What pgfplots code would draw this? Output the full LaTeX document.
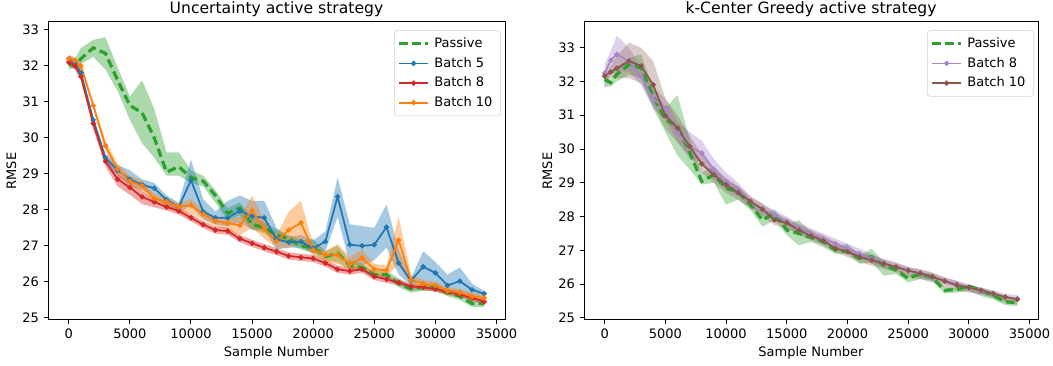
\documentclass[border=0pt]{standalone}
\usepackage{pgfplots}
\pgfplotsset{compat=1.18}
\usepackage{pgfplotstable}
\usepgfplotslibrary{fillbetween}
\usepackage{fontspec}
\setmainfont{DejaVu Sans}

\definecolor{tabblue}{HTML}{1F77B4}
\definecolor{taborange}{HTML}{FF7F0E}
\definecolor{tabgreen}{HTML}{2CA02C}
\definecolor{tabred}{HTML}{D62728}
\definecolor{tabpurple}{HTML}{9467BD}
\definecolor{tabbrown}{HTML}{8C564B}

% ---------- Left: Uncertainty ----------
\pgfplotstableread{
x m lo hi
0 32.05 31.9 32.2
500 32.0 31.95 32.2
1000 32.2 32.05 32.5
2000 32.5 32.25 32.72
3000 32.35 31.9 32.8
4000 31.6 31.3 31.95
5000 30.9 30.5 31.15
6000 30.7 29.85 31.6
7000 30.0 29.45 30.8
8000 29.05 28.95 29.6
9000 29.2 28.95 29.6
10000 28.9 28.75 29.1
11000 28.8 28.65 28.95
12000 28.4 28.2 28.55
13000 27.9 27.7 28.05
14000 28.05 27.85 28.2
15000 27.6 27.45 27.8
16000 27.5 27.35 27.65
17000 27.3 27.15 27.45
18000 27.2 27.05 27.3
19000 27.0 26.9 27.15
20000 26.95 26.8 27.2
21000 26.7 26.6 26.85
22000 26.8 26.55 27.0
23000 26.45 26.35 26.6
24000 26.4 26.3 26.5
25000 26.2 26.1 26.3
26000 26.2 26.1 26.3
27000 25.95 25.85 26.1
28000 25.8 25.7 25.9
29000 25.85 25.75 25.95
30000 25.85 25.75 25.95
31000 25.7 25.6 25.8
32000 25.6 25.5 25.7
33000 25.4 25.3 25.5
34000 25.4 25.3 25.5
}\Lpass

\pgfplotstableread{
x m lo hi
0 32.2 32.1 32.3
500 32.1 32.0 32.2
1000 31.8 31.7 31.9
2000 30.5 30.4 30.6
3000 29.45 29.35 29.55
4000 29.1 28.95 29.25
5000 28.85 28.7 29.1
6000 28.7 28.55 28.85
7000 28.6 28.4 28.75
8000 28.28 28.1 28.4
9000 28.08 27.95 28.2
10000 28.82 28.1 29.4
11000 27.95 27.75 28.3
12000 27.78 27.6 27.95
13000 27.78 27.55 28.25
14000 27.97 27.65 28.4
15000 27.82 27.45 28.25
16000 27.78 27.45 28.25
17000 27.18 26.9 27.5
18000 27.1 26.95 27.25
19000 27.12 26.95 27.3
20000 26.93 26.8 27.15
21000 27.12 26.85 27.4
22000 28.37 27.8 28.9
23000 27.03 26.5 27.6
24000 27.0 26.45 27.55
25000 27.03 26.6 27.5
26000 27.52 26.95 28.15
27000 26.52 26.2 26.9
28000 26.03 25.9 26.1
29000 26.42 26.0 26.85
30000 26.25 25.9 26.55
31000 25.9 25.65 26.2
32000 26.02 25.75 26.4
33000 25.78 25.55 25.95
34000 25.67 25.5 25.75
}\Lbfive

\pgfplotstableread{
x m lo hi
0 32.1 32.0 32.2
500 32.0 31.9 32.1
1000 31.7 31.6 31.8
2000 30.4 30.25 30.55
3000 29.35 29.2 29.5
4000 28.85 28.65 29.0
5000 28.62 28.42 28.78
6000 28.36 28.16 28.52
7000 28.22 28.07 28.32
8000 28.08 27.98 28.18
9000 27.97 27.87 28.07
10000 27.78 27.68 27.88
11000 27.59 27.49 27.69
12000 27.44 27.34 27.54
13000 27.41 27.31 27.51
14000 27.2 27.1 27.3
15000 27.07 26.97 27.17
16000 26.95 26.85 27.05
17000 26.84 26.74 26.94
18000 26.72 26.62 26.82
19000 26.68 26.58 26.78
20000 26.65 26.55 26.75
21000 26.52 26.42 26.62
22000 26.35 26.25 26.45
23000 26.3 26.2 26.4
24000 26.35 26.25 26.45
25000 26.15 26.05 26.25
26000 26.07 25.97 26.17
27000 25.98 25.9 26.06
28000 25.87 25.79 25.95
29000 25.85 25.77 25.93
30000 25.8 25.72 25.88
31000 25.72 25.64 25.8
32000 25.65 25.57 25.73
33000 25.55 25.47 25.63
34000 25.45 25.37 25.53
}\Lbeight

\pgfplotstableread{
x m lo hi
0 32.2 32.1 32.3
500 32.15 32.05 32.25
1000 32.0 31.9 32.1
2000 30.9 30.8 31.0
3000 29.78 29.63 29.93
4000 29.13 28.98 29.28
5000 28.8 28.65 28.95
6000 28.67 28.52 28.82
7000 28.32 28.22 28.45
8000 28.23 28.12 28.33
9000 28.09 27.97 28.18
10000 28.13 27.9 28.3
11000 27.88 27.72 28.0
12000 27.69 27.55 27.8
13000 27.63 27.45 27.75
14000 27.57 27.3 27.8
15000 27.98 27.5 28.4
16000 27.46 27.2 27.7
17000 27.13 26.95 27.3
18000 27.44 26.95 27.95
19000 27.64 27.05 28.25
20000 26.89 26.75 27.05
21000 26.75 26.55 26.85
22000 26.75 26.5 27.05
23000 26.49 26.35 26.7
24000 26.66 26.4 26.9
25000 26.35 26.2 26.5
26000 26.32 26.15 26.45
27000 27.16 26.5 27.8
28000 26.05 25.9 26.2
29000 25.95 25.85 26.05
30000 25.9 25.8 26.0
31000 25.75 25.65 25.85
32000 25.7 25.6 25.8
33000 25.6 25.5 25.7
34000 25.55 25.45 25.65
}\Lbten

% ---------- Right: k-Center Greedy ----------
\pgfplotstableread{
x m lo hi
0 32.06 31.85 32.2
500 31.96 31.85 32.05
1000 32.21 32.0 32.4
2000 32.5 32.2 32.7
3000 32.4 32.1 32.8
4000 31.56 31.2 31.8
5000 30.87 30.5 31.2
6000 30.67 29.8 31.6
7000 29.9 29.4 30.3
8000 29.04 28.95 29.3
9000 29.24 29.0 29.5
10000 28.84 28.35 29.05
11000 28.74 28.5 28.9
12000 28.35 28.2 28.5
13000 27.9 27.7 28.1
14000 28.1 27.9 28.2
15000 27.6 27.45 27.75
16000 27.5 27.15 27.9
17000 27.38 27.25 27.55
18000 27.26 27.1 27.35
19000 27.01 26.9 27.1
20000 26.96 26.9 27.2
21000 26.76 26.6 26.85
22000 26.81 26.65 27.05
23000 26.56 26.25 26.65
24000 26.42 26.3 26.5
25000 26.17 26.05 26.3
26000 26.3 26.15 26.35
27000 26.2 26.1 26.3
28000 25.82 25.72 25.9
29000 25.84 25.75 25.9
30000 25.94 25.8 26.0
31000 25.82 25.65 25.85
32000 25.67 25.55 25.75
33000 25.48 25.38 25.55
34000 25.45 25.35 25.5
}\Rpass

\pgfplotstableread{
x m lo hi
0 32.25 31.75 32.5
500 32.62 32.2 32.9
1000 32.8 32.3 33.35
2000 32.6 32.3 33.0
3000 32.14 31.9 32.4
4000 31.47 31.2 31.8
5000 31.22 30.9 31.5
6000 30.48 30.2 30.8
7000 30.08 29.7 30.5
8000 29.88 29.6 30.25
9000 29.39 29.1 29.7
10000 29.04 28.8 29.3
11000 28.8 28.6 29.0
12000 28.45 28.3 28.6
13000 28.2 28.05 28.35
14000 28.05 27.9 28.2
15000 27.85 27.7 28.0
16000 27.65 27.5 27.8
17000 27.5 27.35 27.65
18000 27.35 27.2 27.5
19000 27.2 27.05 27.35
20000 27.05 26.9 27.2
21000 26.9 26.75 27.05
22000 26.75 26.6 26.9
23000 26.62 26.5 26.72
24000 26.52 26.4 26.62
25000 26.42 26.3 26.52
26000 26.32 26.2 26.42
27000 26.22 26.1 26.32
28000 26.1 26.0 26.2
29000 26.0 25.9 26.1
30000 25.9 25.8 26.0
31000 25.8 25.7 25.9
32000 25.72 25.62 25.82
33000 25.62 25.52 25.72
34000 25.57 25.47 25.67
}\Rbeight

\pgfplotstableread{
x m lo hi
0 32.16 32.05 32.25
500 32.28 32.1 32.45
1000 32.39 32.1 32.75
2000 32.6 32.1 33.15
3000 32.46 31.95 33.0
4000 31.9 31.3 32.6
5000 30.99 30.6 31.5
6000 30.62 30.2 31.0
7000 30.08 29.8 30.4
8000 29.56 29.3 29.85
9000 29.24 29.0 29.45
10000 28.94 28.7 29.15
11000 28.71 28.5 28.9
12000 28.45 28.25 28.6
13000 28.22 28.0 28.4
14000 27.9 27.75 28.1
15000 27.82 27.65 27.95
16000 27.6 27.45 27.75
17000 27.43 27.3 27.6
18000 27.29 27.15 27.45
19000 27.06 26.95 27.25
20000 26.96 26.8 27.1
21000 26.81 26.65 26.95
22000 26.71 26.55 26.85
23000 26.61 26.45 26.75
24000 26.51 26.35 26.65
25000 26.4 26.2 26.5
26000 26.32 26.15 26.45
27000 26.22 26.05 26.35
28000 26.09 25.9 26.2
29000 25.97 25.8 26.1
30000 25.9 25.75 25.95
31000 25.82 25.7 25.9
32000 25.72 25.6 25.8
33000 25.62 25.45 25.65
34000 25.55 25.4 25.6
}\Rbten

\pgfplotsset{
  every axis/.append style={
    scale only axis,
    xmin=-1700, xmax=35700,
    xtick={0,5000,...,35000},
    scaled x ticks=false,
    /pgf/number format/1000 sep={},
    /pgf/number format/assume math mode=true,
    tick align=outside,
    tick pos=left,
    major tick length=3.3pt,
    axis line style={line width=0.75pt},
    every tick/.style={line width=0.75pt, black},
    font=\fontsize{9.75}{11.5}\selectfont,
    ticklabel style={font=\fontsize{9.75}{11.5}\selectfont},
    title style={font=\fontsize{11.7}{13}\selectfont, at={(0.5,1)}, anchor=base, yshift=0.3pt},
    xlabel style={at={(axis description cs:0.5,-0.124)}, anchor=base},
    legend cell align=left,
    legend image code/.code={%
      \draw[mark repeat=2,mark phase=2,#1] plot coordinates {(0pt,0pt) (10.75pt,0pt) (21.5pt,0pt)};},
    legend style={font=\fontsize{9.75}{11.5}\selectfont, draw=black!18, rounded corners=2pt,
      fill=white, fill opacity=0.8, text opacity=1, anchor=north east,
      at={(axis description cs:0.991,0.972)}, inner xsep=2.4pt, inner ysep=2.6pt,
      row sep=0pt, column sep=0pt,
      nodes={text height=7.5pt, text depth=2pt, inner ysep=2.6pt, inner xsep=3.7pt}},
  },
  pass/.style={tabgreen, line width=2.4pt, dash pattern=on 6.5pt off 3.3pt},
  bat/.style={#1, line width=1.3pt, mark=*, mark size=1.25pt, mark options={solid}},
}

\begin{document}
\begin{tikzpicture}

% ---------------- Left axis ----------------
\begin{axis}[
  at={(36pt,34.5pt)}, anchor=south west,
  width=342.75pt, height=223.5pt,
  ymin=24.94, ymax=33.22,
  ytick={25,26,...,33},
  title={Uncertainty active strategy},
  xlabel={Sample Number},
  ylabel={RMSE},
  ylabel style={at={(axis description cs:-0.070,0.5)}, anchor=base},
]
\addplot[name path=Pl, draw=none, forget plot] table[x=x,y=lo]{\Lpass};
\addplot[name path=Ph, draw=none, forget plot] table[x=x,y=hi]{\Lpass};
\addplot[tabgreen, fill opacity=0.4, draw=none, forget plot] fill between[of=Ph and Pl];
\addplot[name path=Al, draw=none, forget plot] table[x=x,y=lo]{\Lbfive};
\addplot[name path=Ah, draw=none, forget plot] table[x=x,y=hi]{\Lbfive};
\addplot[tabblue, fill opacity=0.4, draw=none, forget plot] fill between[of=Ah and Al];
\addplot[name path=Bl, draw=none, forget plot] table[x=x,y=lo]{\Lbeight};
\addplot[name path=Bh, draw=none, forget plot] table[x=x,y=hi]{\Lbeight};
\addplot[tabred, fill opacity=0.4, draw=none, forget plot] fill between[of=Bh and Bl];
\addplot[name path=Cl, draw=none, forget plot] table[x=x,y=lo]{\Lbten};
\addplot[name path=Ch, draw=none, forget plot] table[x=x,y=hi]{\Lbten};
\addplot[taborange, fill opacity=0.4, draw=none, forget plot] fill between[of=Ch and Cl];

\addplot[pass] table[x=x,y=m]{\Lpass};
\addlegendentry{Passive}
\addplot[bat=tabblue] table[x=x,y=m]{\Lbfive};
\addlegendentry{Batch 5}
\addplot[bat=tabred] table[x=x,y=m]{\Lbeight};
\addlegendentry{Batch 8}
\addplot[bat=taborange] table[x=x,y=m]{\Lbten};
\addlegendentry{Batch 10}
\end{axis}

% ---------------- Right axis ----------------
\begin{axis}[
  at={(438pt,34.5pt)}, anchor=south west,
  width=340.5pt, height=223.5pt,
  ymin=24.94, ymax=33.76,
  ytick={25,26,...,33},
  title={k-Center Greedy active strategy},
  xlabel={Sample Number},
  ylabel={RMSE},
  ylabel style={at={(axis description cs:-0.0705,0.5)}, anchor=base},
]
\addplot[name path=Ql, draw=none, forget plot] table[x=x,y=lo]{\Rpass};
\addplot[name path=Qh, draw=none, forget plot] table[x=x,y=hi]{\Rpass};
\addplot[tabgreen, fill opacity=0.35, draw=none, forget plot] fill between[of=Qh and Ql];
\addplot[name path=Dl, draw=none, forget plot] table[x=x,y=lo]{\Rbeight};
\addplot[name path=Dh, draw=none, forget plot] table[x=x,y=hi]{\Rbeight};
\addplot[tabpurple, fill opacity=0.3, draw=none, forget plot] fill between[of=Dh and Dl];
\addplot[name path=El, draw=none, forget plot] table[x=x,y=lo]{\Rbten};
\addplot[name path=Eh, draw=none, forget plot] table[x=x,y=hi]{\Rbten};
\addplot[tabbrown, fill opacity=0.3, draw=none, forget plot] fill between[of=Eh and El];

\addplot[pass] table[x=x,y=m]{\Rpass};
\addlegendentry{Passive}
\addplot[bat=tabpurple!80] table[x=x,y=m]{\Rbeight};
\addlegendentry{Batch 8}
\addplot[bat=tabbrown] table[x=x,y=m]{\Rbten};
\addlegendentry{Batch 10}
\end{axis}

\pgfresetboundingbox
\path (0,0) rectangle (789.75pt,274.5pt);
\end{tikzpicture}
\end{document}
